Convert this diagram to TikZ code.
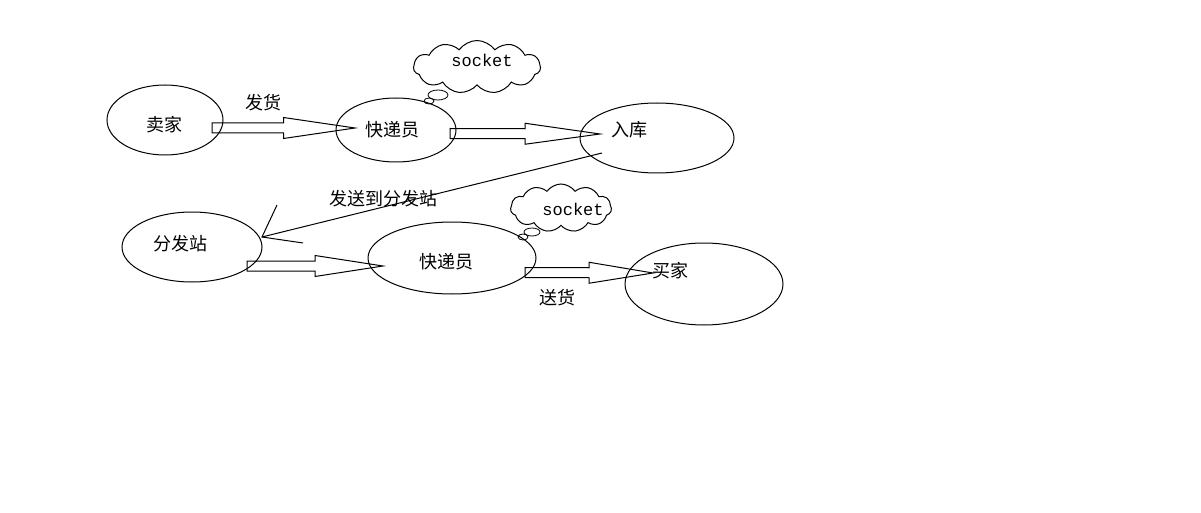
\documentclass[tikz,border=0pt]{standalone}
\usepackage{fontspec}
\newfontfamily\cjk{Noto Sans CJK SC}
\setmonofont{Liberation Mono}
\usetikzlibrary{shapes.geometric, shapes.symbols, calc}

% hollow block arrow between two named points
\newcommand{\blockarrow}[2]{%
  \draw[blockarrow] ($(#1)+(0,-5)$) -- ($(#1)!.5!(#2)+(0,-5)$)
    -- ($(#1)!.5!(#2)+(0,-10.5)$) -- (#2) -- ($(#1)!.5!(#2)+(0,10.5)$)
    -- ($(#1)!.5!(#2)+(0,5)$) -- ($(#1)+(0,5)$) -- cycle;}

\begin{document}
\begin{tikzpicture}[
    x=1pt, y=-1pt,
    place/.style={draw, ellipse, inner sep=0pt, line width=1pt},
    txt/.style={font=\cjk\fontsize{18}{20}\selectfont, inner sep=0pt},
    thought/.style={draw, cloud, cloud puffs=11, cloud puff arc=110, cloud ignores aspect, inner sep=0pt, line width=1pt},
    bubble/.style={draw, ellipse, inner sep=0pt, line width=0.8pt},
    sockettxt/.style={font=\ttfamily\fontsize{17}{19}\selectfont, inner sep=0pt},
    blockarrow/.style={draw, line width=1pt, line join=miter},
    link/.style={line width=1pt}
  ]
  \useasboundingbox (0,0) rectangle (1201,513);

  % places
  \node[place, minimum width=116pt, minimum height=70pt] (seller) at (165,120) {};
  \node[place, minimum width=120pt, minimum height=64pt] (courier) at (396,130) {};
  \node[place, minimum width=154pt, minimum height=70pt] (stock) at (657,138) {};
  \node[place, minimum width=140pt, minimum height=70pt] (station) at (192,247) {};
  \node[place, minimum width=168pt, minimum height=72pt] (courierb) at (452,258) {};
  \node[place, minimum width=158pt, minimum height=82pt] (buyer) at (704,284) {};

  \node[txt] (sellertxt) at (164,125) {卖家};
  \node[txt] (couriertxt) at (392,130) {快递员};
  \node[txt] (stocktxt) at (629,130) {入库};
  \node[txt] (stationtxt) at (180,244) {分发站};
  \node[txt] (courierbtxt) at (446,262) {快递员};
  \node[txt] (buyertxt) at (670,271) {买家};

  % thought clouds
  \node[thought, minimum width=127pt, minimum height=53pt] (cloudA) at (477,67) {};
  \node[sockettxt] (socketA) at (482,60) {socket};
  \node[bubble, minimum width=20pt, minimum height=10pt] (bubA) at (438,95) {};
  \node[bubble, minimum width=10pt, minimum height=6pt] (bubAA) at (429,101) {};

  \node[thought, minimum width=101pt, minimum height=48pt] (cloudB) at (561,208) {};
  \node[sockettxt] (socketB) at (573,209) {socket};
  \node[bubble, minimum width=16pt, minimum height=8pt] (bubB) at (532,232) {};
  \node[bubble, minimum width=10pt, minimum height=6pt] (bubBB) at (523,237) {};

  % block arrows
  \coordinate (sellerout) at (212,128);
  \coordinate (courierin) at (355,128);
  \coordinate (courierout) at (450,133.5);
  \coordinate (stockin) at (600,134);
  \coordinate (stationout) at (247,266);
  \coordinate (courierbin) at (383,266);
  \coordinate (courierbout) at (525,272.5);
  \coordinate (buyerin) at (653,273);
  \blockarrow{sellerout}{courierin}
  \blockarrow{courierout}{stockin}
  \blockarrow{stationout}{courierbin}
  \blockarrow{courierbout}{buyerin}

  % line arrow back to the station
  \coordinate (stockout) at (602,153);
  \coordinate (stationin) at (262,237);
  \coordinate (barbup) at (277,205);
  \coordinate (barbdown) at (303,243);
  \draw[link] (stockout) -- (stationin);
  \draw[link] (barbup) -- (stationin) -- (barbdown);

  % edge labels
  \node[txt] (shiplbl) at (263,103) {发货};
  \node[txt] (sendlbl) at (383,199) {发送到分发站};
  \node[txt] (deliverlbl) at (557,298) {送货};
\end{tikzpicture}
\end{document}
